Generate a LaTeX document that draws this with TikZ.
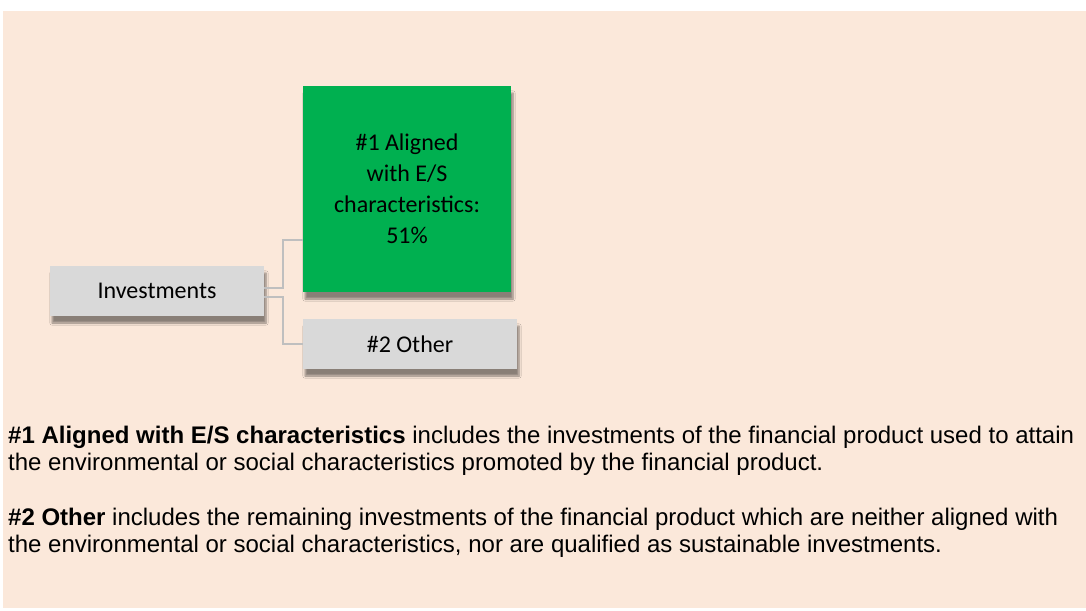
\documentclass[tikz,border=0pt]{standalone}
\usepackage{fontspec}
\setmainfont{Liberation Sans}
\newfontfamily\boxfont{Carlito}
\usetikzlibrary{shadows.blur}
\definecolor{peach}{HTML}{FBE8DA}
\definecolor{aligngreen}{HTML}{00B050}
\definecolor{boxgrey}{HTML}{D9D9D9}
\definecolor{linegrey}{HTML}{BFBFBF}

\begin{document}
\begin{tikzpicture}[x=1pt,y=-1pt]
    % `category' is used for the grey and green boxes of the tree.
    % `link' is used for the elbow connectors.
    % `note' is used for the explanations below the tree.
    \tikzstyle{category} = [fill=boxgrey,inner sep=0pt,align=center,
      font=\boxfont\fontsize{24}{31}\selectfont,
      blur shadow={shadow xshift=2pt,shadow yshift=-7pt,shadow opacity=45,shadow blur steps=6}]
    \tikzstyle{link} = [draw=linegrey,line width=1.5pt]
    \tikzstyle{note} = [anchor=base west,align=left,inner sep=0pt,font=\fontsize{24}{27}\selectfont]
    %
    \useasboundingbox (0,0) rectangle (1086,610);
    \fill[peach] (3,11) rectangle (1086,608);
    %
    \node[category,minimum width=214pt,minimum height=50pt] (inv) at (157,291) {Investments};
    \node[category,fill=aligngreen,minimum width=208pt,minimum height=206pt] (aligned) at (407,189)
      {\#1 Aligned\\with E/S\\characteristics:\\51\%};
    \node[category,minimum width=214pt,minimum height=50pt] (other) at (410,344) {\#2 Other};
    %
    % Draw elbow connectors.
    \draw[link] ([yshift=3pt]inv.east) -- ++(19,0) |- ([yshift=-51pt]aligned.west);
    \draw[link] ([yshift=-6pt]inv.east) -- ++(19,0) |- (other.west);
    %
    \node[note] (note1) at (8,470) {\textbf{\#1 Aligned with E/S characteristics} includes the investments of the financial product used to attain\\
      the environmental or social characteristics promoted by the financial product.};
    \node[note] (note2) at (8,552) {\textbf{\#2 Other} includes the remaining investments of the financial product which are neither aligned with\\
      the environmental or social characteristics, nor are qualified as sustainable investments.};
\end{tikzpicture}
\end{document}
